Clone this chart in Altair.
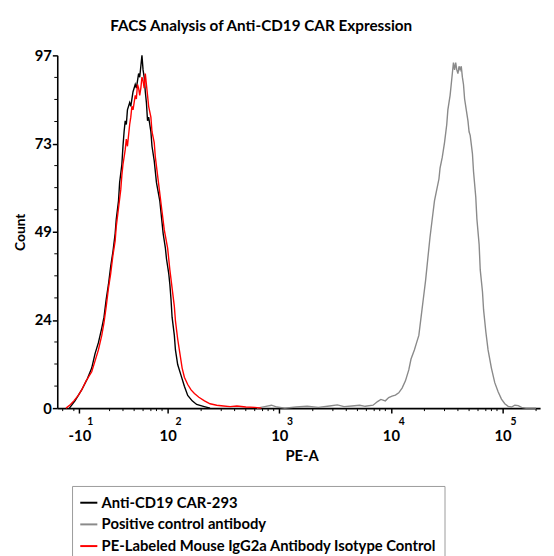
import altair as alt
import pandas as pd

TITLE = "FACS Analysis of Anti-CD19 CAR Expression"
S_BLACK = "Anti-CD19 CAR-293"
S_GRAY = "Positive control antibody"
S_RED = "PE-Labeled Mouse IgG2a Antibody Isotype Control"

# x: PE-A in display decades (biexponential axis), y: Count
black_pe = [1.12, 1.17, 1.23, 1.28, 1.32, 1.35, 1.38, 1.41, 1.43, 1.45, 1.47, 1.49, 1.51, 1.53,
            1.54, 1.56, 1.57, 1.59, 1.60, 1.61, 1.62, 1.63, 1.64, 1.66, 1.67, 1.69, 1.71, 1.72,
            1.74, 1.75, 1.76, 1.77, 1.78, 1.79, 1.80, 1.81, 1.82, 1.83, 1.85, 1.86, 1.88, 1.90,
            1.93, 1.95, 1.96, 1.98, 1.99, 2.01, 2.02, 2.03, 2.04, 2.06, 2.07, 2.09, 2.12, 2.15,
            2.18, 2.22, 2.26, 2.32, 2.38]
black_count = [0, 2, 5, 8, 11, 15, 18, 22, 25, 30, 34, 39, 43, 48,
               52, 57, 62, 67, 72, 76, 79, 78, 82, 84, 83, 87, 89, 88,
               92, 91, 94, 97, 93, 91, 87, 84, 79, 80, 76, 72, 68, 62,
               57, 51, 48, 44, 41, 37, 34, 30, 25, 20, 16, 12, 9, 6,
               3.5, 2, 1, 0.5, 0]

red_pe = [1.09, 1.13, 1.16, 1.20, 1.23, 1.27, 1.32, 1.35, 1.38, 1.41, 1.43, 1.45, 1.47, 1.49,
          1.51, 1.53, 1.54, 1.56, 1.58, 1.59, 1.60, 1.62, 1.63, 1.64, 1.66, 1.67, 1.68, 1.69,
          1.71, 1.72, 1.73, 1.74, 1.75, 1.76, 1.77, 1.78, 1.79, 1.80, 1.81, 1.82, 1.83, 1.85,
          1.86, 1.88, 1.89, 1.91, 1.93, 1.95, 1.97, 2.00, 2.02, 2.04, 2.06, 2.07, 2.09, 2.11,
          2.13, 2.15, 2.18, 2.21, 2.24, 2.28, 2.33, 2.38, 2.44, 2.50, 2.56, 2.62, 2.70, 2.78, 2.84]
red_count = [0, 1, 2, 3.5, 5, 7.5, 10, 13, 16, 20, 23.5, 28, 33, 37,
             42, 46, 50, 55, 60, 64, 67, 71, 74, 72, 78, 80, 83, 82,
             86, 85, 89, 88, 86, 88, 91, 90, 88, 92, 89, 86, 83, 80,
             76, 73, 69, 64, 59, 54, 49, 44, 38, 33, 28, 24, 19, 15,
             11, 8.5, 6.5, 5, 4, 3, 2, 1.2, 0.8, 0.6, 0.4, 0.6, 0.3, 0.2, 0]

gray_pe = [2.80, 2.88, 2.93, 2.98, 3.05, 3.15, 3.25, 3.35, 3.45, 3.52, 3.58, 3.65, 3.72, 3.77,
           3.84, 3.88, 3.91, 3.95, 3.98, 4.01, 4.04, 4.07, 4.10, 4.13, 4.16, 4.18, 4.21, 4.23,
           4.25, 4.27, 4.29, 4.31, 4.33, 4.35, 4.37, 4.39, 4.41, 4.43, 4.44, 4.46, 4.48, 4.50,
           4.51, 4.53, 4.54, 4.55, 4.56, 4.57, 4.58, 4.59, 4.60, 4.61, 4.62, 4.63, 4.64, 4.65,
           4.66, 4.68, 4.69, 4.70, 4.71, 4.73, 4.74, 4.76, 4.77, 4.79, 4.80, 4.82, 4.83, 4.85,
           4.87, 4.90, 4.93, 4.96, 4.99, 5.02, 5.05, 5.08, 5.11, 5.14, 5.17, 5.21, 5.30]
gray_count = [0, 0.5, 0.8, 0.3, 0, 0.3, 0.5, 0.2, 0.6, 0.9, 0.4, 0.6, 0.8, 0.5,
              0.8, 1.8, 2.4, 2.0, 2.9, 3.3, 3.6, 4.2, 5.5, 7.5, 10.5, 13.5, 16, 18,
              20, 25, 30, 35, 41, 47, 52, 57, 60, 63, 66, 69, 73, 78,
              82, 86, 89, 92, 95, 93, 95, 93, 92, 94, 93, 94, 91, 89,
              85, 81, 79, 76, 75, 70, 65, 58, 52, 45, 38, 32, 27, 21,
              16, 11, 7, 4.5, 2.5, 1.2, 0.5, 0.3, 0.8, 0.7, 0.2, 0, 0]

# axis ticks
x_major = [1.21, 2, 3, 4, 5]
x_exponent = ["1", "2", "3", "4", "5"]
x_minor = [1.06, 1.16, 1.48, 1.60, 1.70, 1.78, 1.85, 1.90, 1.95,
           2.30, 2.48, 2.60, 2.70, 2.78, 2.85, 2.90, 2.95,
           3.30, 3.48, 3.60, 3.70, 3.78, 3.85, 3.90, 3.95,
           4.30, 4.48, 4.60, 4.70, 4.78, 4.85, 4.90, 4.95, 5.30]
y_major = [0, 24.25, 48.5, 72.75, 97]
y_minor = [6.06, 12.13, 18.19, 30.31, 36.38, 42.44, 54.56, 60.63, 66.69,
           78.81, 84.88, 90.94]

W, H = 490, 358
FONT = "Lato"

rows = []
for name, xs, ys in [(S_GRAY, gray_pe, gray_count), (S_BLACK, black_pe, black_count),
                     (S_RED, red_pe, red_count)]:
    for a, b in zip(xs, ys):
        rows.append({"series": name, "pe": a, "count": b})
df = pd.DataFrame(rows)

xscale = alt.Scale(domain=[1.0115, 5.336], nice=False, zero=False)
yscale = alt.Scale(domain=[0, 97], nice=False, zero=True)

xaxis = alt.Axis(values=x_major, labelExpr="datum.value < 1.5 ? '-10' : '10'",
                 title="PE-A", titleFont=FONT, titleFontSize=15, titleFontWeight="bold",
                 titleColor="black", titleX=248, titleY=53, titleBaseline="alphabetic",
                 titleAnchor="start", titleAlign="center",
                 labelFont=FONT, labelFontSize=15, labelFontWeight="bold", labelColor="black",
                 labelBaseline="alphabetic", labelPadding=28, labelFlush=False,
                 tickSize=5, tickColor="black", tickWidth=1.5,
                 domainColor="black", domainWidth=1.6, grid=False)
yaxis = alt.Axis(values=y_major, labelExpr="round(datum.value)",
                 title="Count", titleFont=FONT, titleFontSize=14, titleFontWeight="bold",
                 titleColor="black", titleX=-37, titleY=179, titleAngle=270,
                 titleAlign="center", titleBaseline="middle",
                 labelFont=FONT, labelFontSize=15, labelFontWeight="bold", labelColor="black",
                 labelPadding=1, labelFlush=False,
                 tickSize=5, tickColor="black", tickWidth=1.5,
                 domainColor="black", domainWidth=1.6, grid=False)

def X():
    return alt.X("pe:Q", scale=xscale, axis=xaxis)

def Y():
    return alt.Y("count:Q", scale=yscale, axis=yaxis)

lines = alt.Chart(df).mark_line(strokeWidth=1.4).encode(
    x=X(), y=Y(),
    color=alt.Color("series:N",
                    scale=alt.Scale(domain=[S_BLACK, S_GRAY, S_RED],
                                    range=["#000000", "#8a8a8a", "#ff0000"]),
                    sort=[S_BLACK, S_GRAY, S_RED],
                    legend=alt.Legend(orient="none", legendX=15, legendY=437, title=None,
                                      direction="vertical", symbolType="stroke",
                                      symbolStrokeWidth=2, symbolSize=300,
                                      labelFont=FONT, labelFontSize=15, labelFontWeight="bold",
                                      labelColor="black", labelOffset=3,
                                      strokeColor="#9a9a9a", fillColor="white",
                                      padding=7, rowPadding=4, labelLimit=500)),
    order=alt.Order("pe:Q"),
)

xminor = alt.Chart(pd.DataFrame({"pe": x_minor})).mark_rule(color="black", strokeWidth=1).encode(
    x=X(), y=alt.value(H), y2=alt.value(H + 3))
yminor = alt.Chart(pd.DataFrame({"count": y_minor})).mark_rule(color="black", strokeWidth=1).encode(
    y=Y(), x=alt.value(0), x2=alt.value(-3))

exp_df = pd.DataFrame({"pe": x_major, "exp": x_exponent})
exps = alt.Chart(exp_df).mark_text(font=FONT, fontSize=10.5, fontWeight="bold", color="black",
                                   baseline="alphabetic", align="center", dx=11).encode(
    x=X(), y=alt.value(H + 17), text="exp:N")

chart = alt.layer(xminor, yminor, lines, exps).properties(
    width=W, height=H,
    autosize="none",
    padding={"left": 50, "top": 44, "right": 6, "bottom": 146},
    title=alt.TitleParams(text=TITLE, font=FONT, fontSize=15.5, fontWeight="bold", color="black",
                          anchor="middle", dx=-38, offset=14),
).configure_view(stroke=None)

chart.save("out.html", embed_options={"renderer": "svg", "actions": False})
